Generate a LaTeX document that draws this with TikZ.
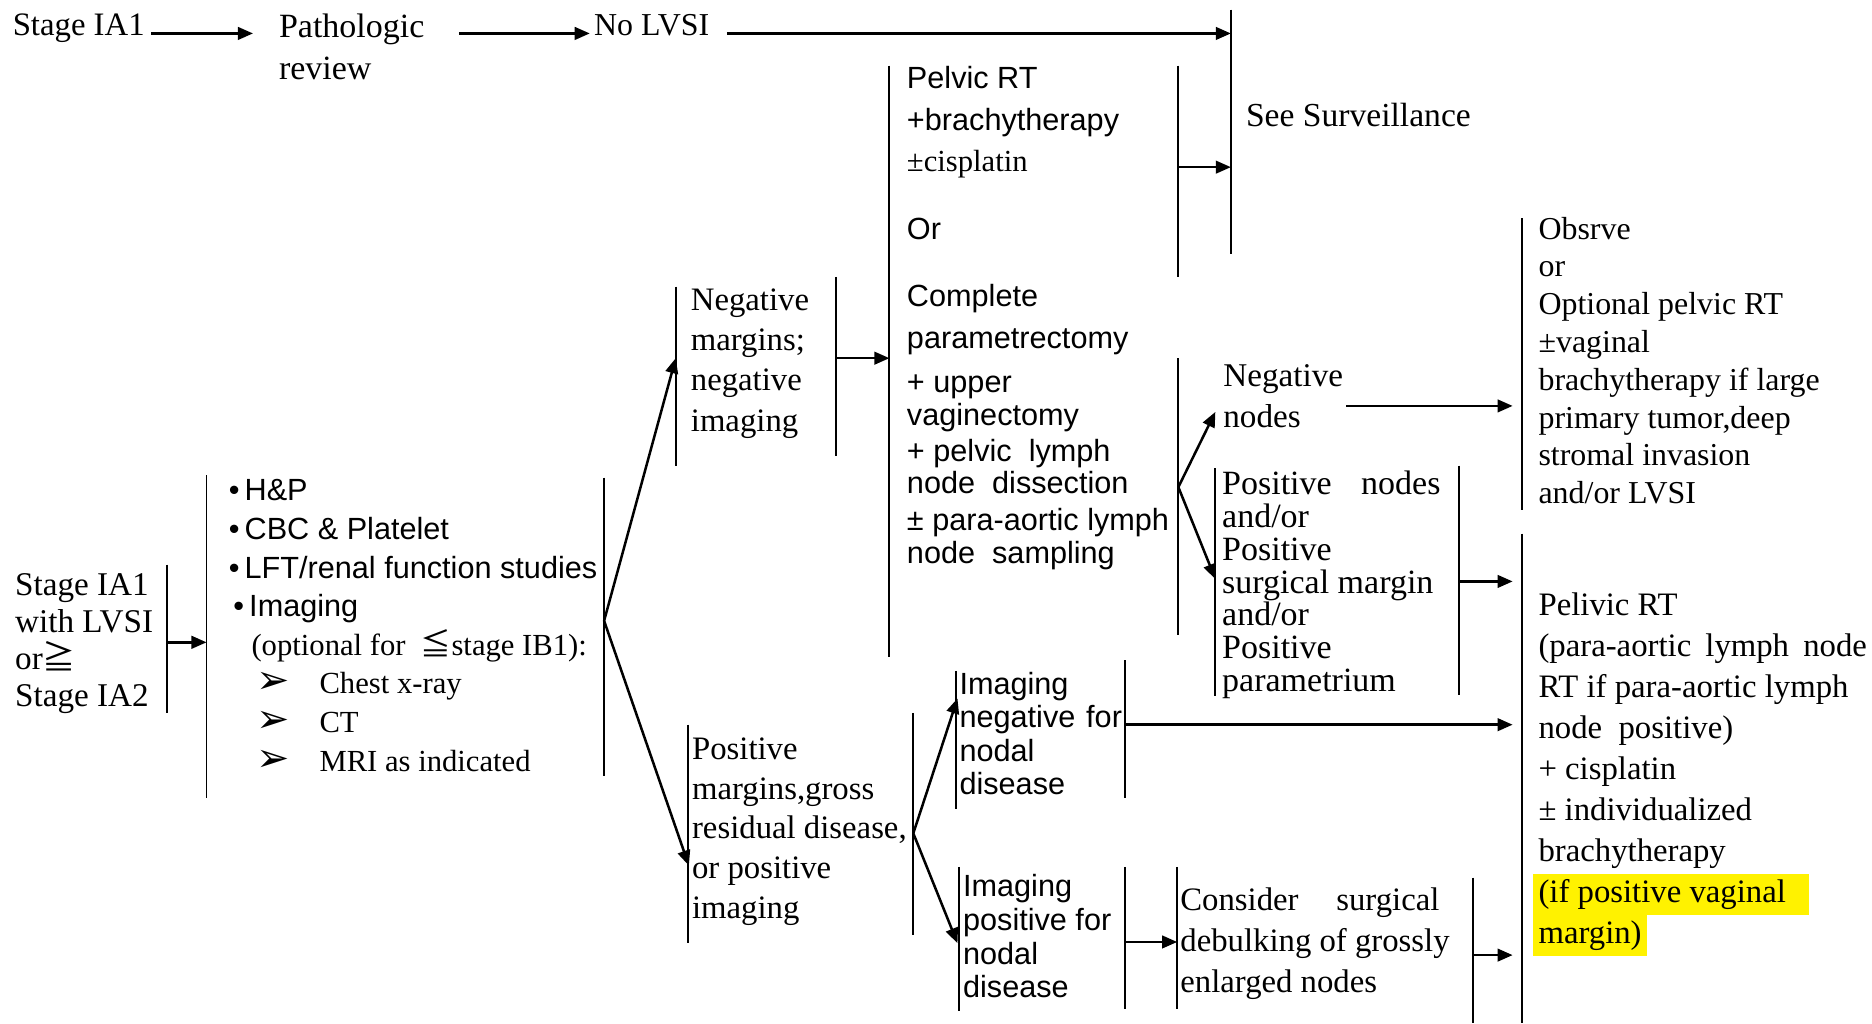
\documentclass[tikz,border=0pt]{standalone}
\usepackage{fontspec}
\setmainfont{Liberation Serif}
\setsansfont{Liberation Sans}
\newfontfamily\cjkfont{Noto Sans CJK SC}
\newfontfamily\symbfont{DejaVu Sans}
\usepackage{xcolor}
\usepackage{tikz}
\usetikzlibrary{arrows.meta}
\usetikzlibrary{calc}

\newcommand{\rmsize}[2]{\rmfamily\fontsize{#1}{#2}\selectfont}
\newcommand{\sfsize}[2]{\sffamily\fontsize{#1}{#2}\selectfont}
\newcommand{\spread}[2]{\makebox[#1][s]{#2}}
\newcommand{\arrowitem}[1]{\hspace*{6.6pt}\makebox[15pt][l]{\symbfont\fontsize{9.5}{9.5}\selectfont ➢}#1}
\newcommand{\dotitem}[1]{•\hspace{1.2pt}#1}
\newcommand{\marked}[1]{\hspace*{-1.3pt}{\fboxsep=1.3pt\colorbox{yellow}{#1}}}

\begin{document}
\begin{tikzpicture}[x=0.01cm, y=-0.01cm,
		txt/.style={anchor=north west, inner sep=0pt, align=left},
		bar/.style={line width=0.45pt},
		link/.style={-{Triangle[length=3.6pt, width=3pt]}, line width=0.6pt}]
	\useasboundingbox (0,0) rectangle (1568,857);

	\node[txt, font=\rmsize{7.8}{9.6}] (stageA) at (10,11) {Stage IA1};
	\node[txt, font=\rmsize{8.1}{10}] (patho) at (233,11) {Pathologic\\ review};
	\node[txt, font=\rmsize{7.6}{9.6}] (nolvsi) at (497,11) {No LVSI};
	\node[txt, font=\rmsize{8}{9.6}] (surv) at (1043,86) {See Surveillance};

	\node[txt, font=\sfsize{7.3}{7.8}] (pelvic) at (759,55) {Pelvic RT\\[2.2pt]
		+brachytherapy\\[1.9pt] {\rmfamily ±cisplatin}\\[8.4pt] Or\\[8.1pt]
		Complete\\[2.2pt] parametrectomy\\[2.7pt] + upper\\ vaginectomy\\[0.8pt]
		+ pelvic\ \ lymph\\ node\ \ dissection\\[1pt] ± para-aortic lymph\\
		node\ \ sampling};

	\node[txt, font=\rmsize{7.8}{9.6}] (negmarg) at (578,241) {Negative\\ margins;\\ negative\\ imaging};
	\node[txt, font=\rmsize{7.9}{8.8}] (stageB) at (12,480) {Stage IA1\\ with LVSI\\ or{\cjkfont ≧}\\ Stage IA2};

	\node[txt, font=\sfsize{7.3}{9.2}] (workup) at (191,401) {\dotitem{H\&P}\\ \dotitem{CBC \& Platelet}\\
		\dotitem{LFT/renal function studies}\\ \hspace*{1.1pt}\dotitem{Imaging}\\
		{\rmfamily\hspace*{5.4pt}(optional for\ \ {\cjkfont ≦}stage IB1):}\\
		{\rmfamily\arrowitem{Chest x-ray}}\\ {\rmfamily\arrowitem{CT}}\\
		{\rmfamily\arrowitem{MRI as indicated}}};

	\node[txt, font=\rmsize{7.8}{9.5}] (posmarg) at (579,617) {Positive\\ margins,gross\\ residual disease,\\ or positive\\ imaging};
	\node[txt, font=\sfsize{7.3}{8}] (imgneg) at (803,562) {Imaging\\ \spread{38.7pt}{negative for}\\ nodal\\ disease};
	\node[txt, font=\sfsize{7.3}{8}] (imgpos) at (806,732) {Imaging\\ positive for\\ nodal\\ disease};
	\node[txt, font=\rmsize{7.8}{9.7}] (debulk) at (988,743) {\spread{61.7pt}{Consider surgical}\\ debulking of grossly\\ enlarged nodes};

	\node[txt, font=\rmsize{7.9}{9.7}] (negnodes) at (1024,305) {Negative\\ nodes};
	\node[txt, font=\rmsize{8.1}{7.8}] (posnodes) at (1023,394) {\spread{52pt}{Positive nodes}\\ and/or\\ Positive\\ surgical margin\\ and/or\\ Positive\\ parametrium};

	\node[txt, font=\rmsize{7.6}{9}] (observe) at (1288,181) {Obsrve\\ or\\ Optional pelvic RT\\ ±vaginal\\
		brachytherapy if large\\ primary tumor,deep\\ stromal invasion\\ and/or LVSI};
	\node[txt, font=\rmsize{7.8}{9.75}] (pelrt) at (1288,496) {Pelivic RT\\ \spread{78.2pt}{(para-aortic lymph node}\\
		RT if para-aortic lymph\\ node\ \ positive)\\ + cisplatin\\ ± individualized\\ brachytherapy\\
		\marked{\makebox[63pt][l]{(if positive vaginal}}\\ \marked{margin)}};

	\foreach \x/\ya/\yb in {1031/8/213, 745/55/550, 987/55/232, 987/300/532, 566/240/390,
			700/232/382, 140/473/597, 173/398/668, 506/400/650, 576/607/790, 765/597/783,
			801/562/678, 942/553/668, 803/726/847, 942/726/845, 986/726/845, 1234/735/857,
			1018/392/583, 1222/390/582, 1275/183/427, 1275/447/857}
		\draw[bar] (\x,\ya) -- (\x,\yb);

	\coordinate (topline) at (0,28);
	\coordinate (survIn) at (1031,28);
	\coordinate (survIn2) at (1031,140);
	\coordinate (pelvicOut) at (987,140);
	\coordinate (negOut) at (700,300);
	\coordinate (pelvicIn) at (745,300);
	\coordinate (stageOut) at (140,538);
	\coordinate (workIn) at (173,538);
	\coordinate (workFork) at (506,520);
	\coordinate (negIn) at (566,300);
	\coordinate (posIn) at (577,725);
	\coordinate (posFork) at (765,698);
	\coordinate (imgnegIn) at (802,585);
	\coordinate (imgposIn) at (802,790);
	\coordinate (nodeFork) at (987,408);
	\coordinate (negnodesIn) at (1018,345);
	\coordinate (posnodesIn) at (1018,485);
	\coordinate (observeIn) at (1267,340);
	\coordinate (posnodesOut) at (1222,487);
	\coordinate (pelrtIn) at (1267,487);
	\coordinate (imgnegOut) at (942,607);
	\coordinate (pelrtIn2) at (1267,607);
	\coordinate (imgposOut) at (942,789);
	\coordinate (debulkIn) at (986,789);
	\coordinate (debulkOut) at (1234,800);
	\coordinate (pelrtIn3) at (1267,800);

	\draw[link] ([xshift=1.4pt]stageA.east |- topline) -- ([xshift=-6pt]patho.west |- topline);
	\draw[link] ([xshift=8pt]patho.east |- topline) -- ([xshift=-0.85pt]nolvsi.west |- topline);
	\draw[link] ([xshift=4pt]nolvsi.east |- survIn) -- (survIn);
	\draw[link] (pelvicOut) -- (survIn2);
	\draw[link] (negOut) -- (pelvicIn);
	\draw[link] (stageOut) -- (workIn);
	\draw[link] (workFork) -- (negIn);
	\draw[link] (workFork) -- (posIn);
	\draw[link] (posFork) -- (imgnegIn);
	\draw[link] (posFork) -- (imgposIn);
	\draw[link] (nodeFork) -- (negnodesIn);
	\draw[link] (nodeFork) -- (posnodesIn);
	\draw[link] ([xshift=0.6pt]negnodes.east |- observeIn) -- (observeIn);
	\draw[link] (posnodesOut) -- (pelrtIn);
	\draw[link] (imgnegOut) -- (pelrtIn2);
	\draw[link] (imgposOut) -- (debulkIn);
	\draw[link] (debulkOut) -- (pelrtIn3);
\end{tikzpicture}
\end{document}
